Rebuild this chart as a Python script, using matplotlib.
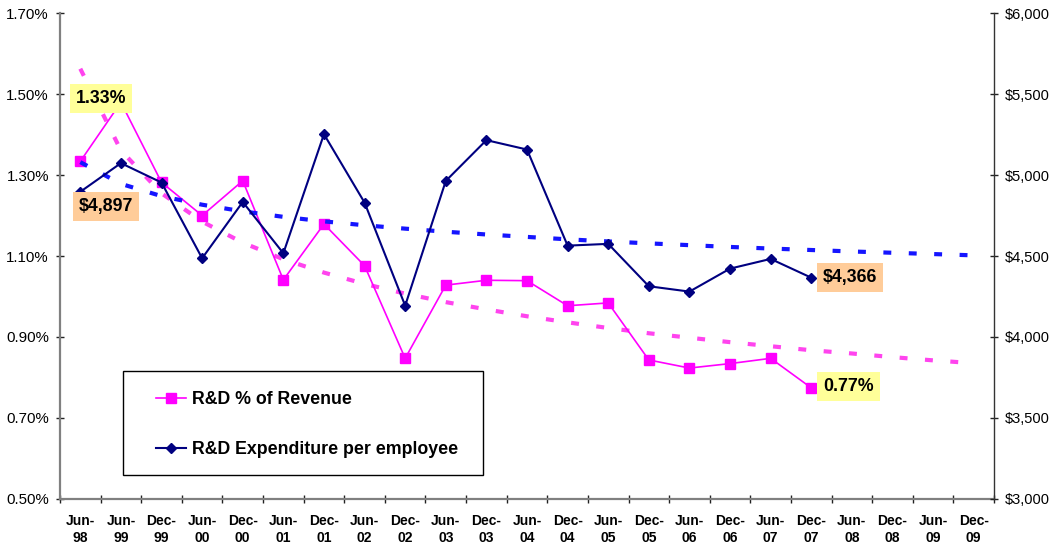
import matplotlib
matplotlib.use('Agg')
import matplotlib.pyplot as plt
import numpy as np
from matplotlib.ticker import FuncFormatter
from matplotlib.patches import Rectangle
from matplotlib.lines import Line2D

plt.rcParams['font.family'] = ['Liberation Sans', 'DejaVu Sans']

categories = ['Jun-98', 'Jun-99', 'Dec-99', 'Jun-00', 'Dec-00', 'Jun-01', 'Dec-01',
              'Jun-02', 'Dec-02', 'Jun-03', 'Dec-03', 'Jun-04', 'Dec-04', 'Jun-05',
              'Dec-05', 'Jun-06', 'Dec-06', 'Jun-07', 'Dec-07', 'Jun-08', 'Dec-08',
              'Jun-09', 'Dec-09']

# R&D as % of revenue (left axis, percent)
rd_pct = [1.334, 1.48, 1.282, 1.200, 1.286, 1.041, 1.179, 1.076, 0.847, 1.028,
          1.040, 1.039, 0.977, 0.984, 0.843, 0.823, 0.834, 0.847, 0.774]
# R&D expenditure per employee (right axis, $)
rd_per_emp = [4897, 5074, 4954, 4486, 4834, 4517, 5253, 4830, 4193, 4964,
              5216, 5158, 4564, 4575, 4313, 4280, 4422, 4482, 4366]

# Trend lines (extend to Dec-09)
pct_trend = [1.563, 1.361, 1.255, 1.185, 1.133, 1.092, 1.059, 1.031, 1.007, 0.986,
             0.968, 0.951, 0.936, 0.922, 0.909, 0.898, 0.887, 0.877, 0.867, 0.859,
             0.850, 0.842, 0.835]
emp_trend = [5080, 4946, 4870, 4817, 4776, 4742, 4714, 4690, 4669, 4650, 4633,
             4618, 4603, 4590, 4578, 4567, 4556, 4546, 4537, 4528, 4520, 4512, 4504]

pct_ticks = [0.5, 0.7, 0.9, 1.1, 1.3, 1.5, 1.7]
usd_ticks = [3000, 3500, 4000, 4500, 5000, 5500, 6000]

W, H = 1056, 545
fig = plt.figure(figsize=(W / 100, H / 100), dpi=100)
ax = fig.add_axes([60 / W, 1 - 498.7 / H, (994 - 60) / W, (498.7 - 13.3) / H])
ax2 = ax.twinx()

x_all = np.arange(len(categories))
x_dat = np.arange(len(rd_pct))

pink = '#FF00FF'
navy = '#000080'

ax.plot(x_dat, rd_pct, color=pink, lw=1.2, marker='s', ms=6.5, mfc=pink, mec=pink, zorder=3)
ax.plot(x_all, pct_trend, color='#FF44EE', lw=3.0, linestyle=(0, (1.9, 4.2)),
        dash_capstyle='butt', zorder=2)

ax2.plot(x_dat, rd_per_emp, color=navy, lw=1.5, marker='D', ms=5.5, mfc=navy, mec=navy, zorder=3)
ax2.plot(x_all, emp_trend, color='#1515FF', lw=3.0, linestyle=(0, (1.9, 4.2)),
         dash_capstyle='butt', zorder=2)

ax.set_xlim(-0.5, len(categories) - 0.5)
ax.set_ylim(0.5, 1.7)
ax2.set_ylim(3000, 6000)
ax.set_yticks(pct_ticks)
ax2.set_yticks(usd_ticks)
ax.yaxis.set_major_formatter(FuncFormatter(lambda v, p: f'{v:.2f}%'))
ax2.yaxis.set_major_formatter(FuncFormatter(lambda v, p: f'${v:,.0f}'))

ax.set_xticks(x_all)
ax.set_xticklabels([c.replace('-', '-\n') for c in categories], fontweight='bold',
                   fontsize=10, linespacing=1.3)
ax.set_xticks(np.arange(-0.5, len(categories), 1), minor=True)
ax.tick_params(axis='x', which='major', length=0, pad=11, colors='black')
ax.tick_params(axis='x', which='minor', length=6, direction='inout', color='#222222', width=1)
ax.tick_params(axis='y', which='major', length=6, direction='inout', color='#222222',
               width=1, labelsize=10.8, pad=5)
ax2.tick_params(axis='y', which='major', length=6, direction='inout', color='#222222',
                width=1, labelsize=10.5, pad=5)

for s in ['top', 'right']:
    ax.spines[s].set_visible(False)
for s in ['top', 'left', 'bottom']:
    ax2.spines[s].set_visible(False)
ax.spines['left'].set_color('#808080')
ax.spines['left'].set_linewidth(1.6)
ax.spines['bottom'].set_color('#808080')
ax.spines['bottom'].set_linewidth(1.6)
ax2.spines['right'].set_color('#333333')
ax2.spines['right'].set_linewidth(1.0)

# Annotations for first and last values
bold = dict(fontsize=12.8, fontweight='bold')
bstyle = 'square,pad=0.34'
ax.annotate(f'{rd_pct[0]:.2f}%', xy=(x_dat[0], rd_pct[0]), xytext=(15, 45),
            textcoords='offset points', ha='center', va='center',
            bbox=dict(boxstyle=bstyle, fc='#FFFF99', ec='none'), zorder=5, **bold)
ax2.annotate(f'${rd_per_emp[0]:,}', xy=(x_dat[0], rd_per_emp[0]), xytext=(18.5, -10.6),
             textcoords='offset points', ha='center', va='center',
             bbox=dict(boxstyle=bstyle, fc='#FFCC99', ec='none'), zorder=5, **bold)
ax2.annotate(f'${rd_per_emp[-1]:,}', xy=(x_dat[-1], rd_per_emp[-1]), xytext=(8.5, 0),
             textcoords='offset points', ha='left', va='center',
             bbox=dict(boxstyle=bstyle, fc='#FFCC99', ec='none'), zorder=5, **bold)
ax.annotate(f'{rd_pct[-1]:.2f}%', xy=(x_dat[-1], rd_pct[-1]), xytext=(8.5, 1),
            textcoords='offset points', ha='left', va='center',
            bbox=dict(boxstyle=bstyle, fc='#FFFF99', ec='none'), zorder=5, **bold)

# Legend box
box = Rectangle(((123.3 - 60) / (994 - 60), (498.7 - 475) / (498.7 - 13.3)),
                (483 - 123.3) / (994 - 60), (475 - 370.7) / (498.7 - 13.3),
                transform=ax2.transAxes, fc='white', ec='black', lw=1.0, zorder=6)
ax2.add_patch(box)
handles = [Line2D([], [], color=pink, lw=1.2, marker='s', ms=6.5, mfc=pink, mec=pink),
           Line2D([], [], color=navy, lw=1.5, marker='D', ms=5.5, mfc=navy, mec=navy)]
leg = ax2.legend(handles, ['R&D % of Revenue', 'R&D Expenditure per employee'],
                 loc='upper left',
                 bbox_to_anchor=((142 - 60) / (994 - 60), (498.7 - 377) / (498.7 - 13.3)),
                 frameon=False, prop=dict(size=12.8, weight='bold'),
                 handlelength=1.7, handletextpad=0.3, labelspacing=1.85, borderpad=0.3)
leg.set_zorder(7)

fig.savefig('out.png', dpi=100)
